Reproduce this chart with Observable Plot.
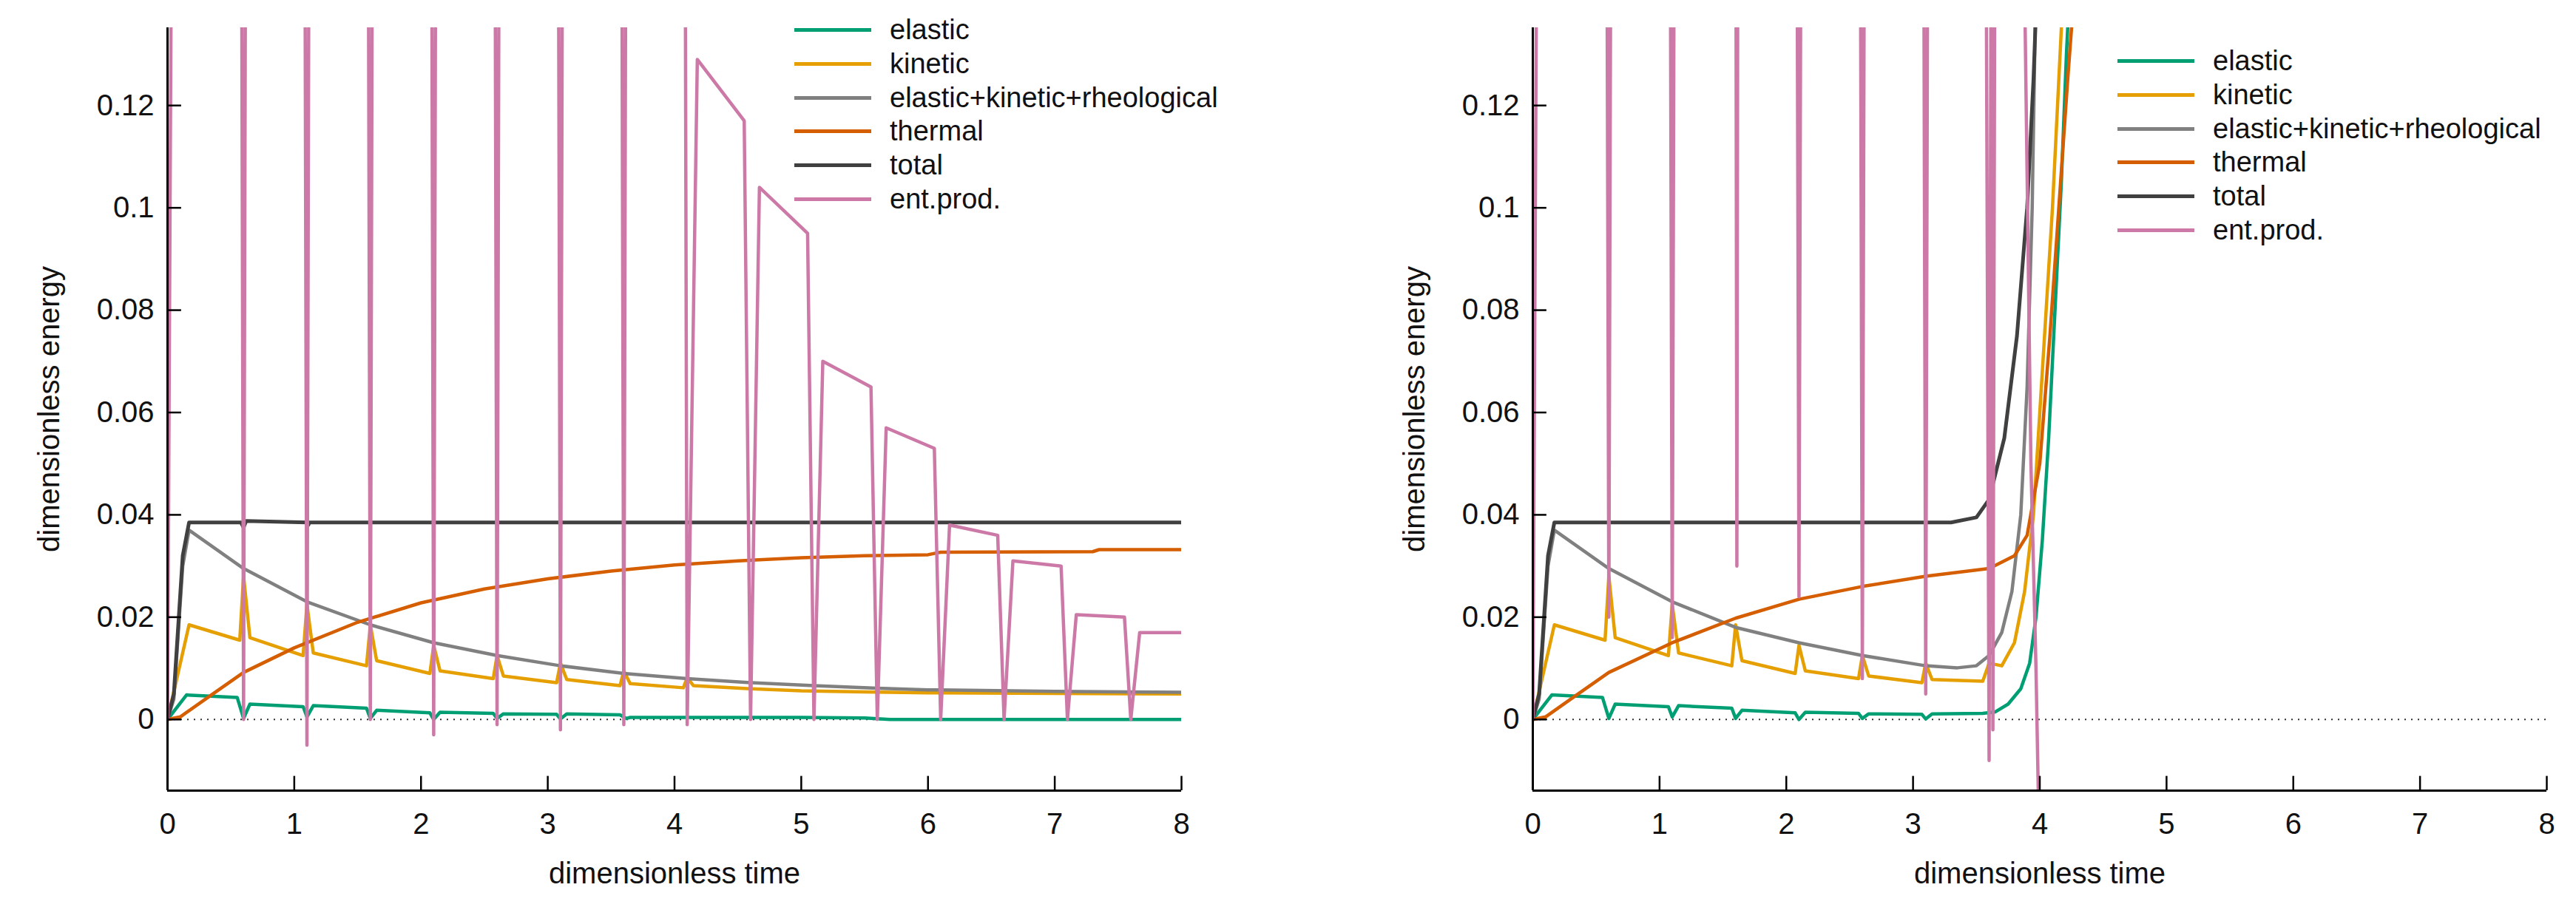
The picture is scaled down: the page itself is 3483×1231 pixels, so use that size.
<!DOCTYPE html>
<html><head><meta charset="utf-8">
<script src="https://cdn.jsdelivr.net/npm/d3@7"></script>
<script src="https://cdn.jsdelivr.net/npm/@observablehq/plot@0.6"></script>
<style>
body{margin:0;background:#fff;font-family:"Liberation Sans",Arial,sans-serif}
#wrap{display:flex;width:3483px;height:1231px}
.panel{position:relative;width:1741px;height:1231px}
.legend{position:absolute;font-size:38px;color:#111}
.legend div{display:flex;align-items:center;height:45.7px}
.legend span.sw{display:inline-block;width:104px;height:5px;margin-right:25px}
</style></head><body><div id="wrap"><div class="panel" id="p1"></div><div class="panel" id="p2"></div></div>
<script>
const seriesNames = ["elastic","kinetic","elastic+kinetic+rheological","thermal","total","ent.prod."];
const seriesColors = ["#009e73","#e69f00","#808080","#d55e00","#404040","#cc79a7"];
const xTicks = [0,1,2,3,4,5,6,7,8];
const yTicks = [0,0.02,0.04,0.06,0.08,0.1,0.12];

// Left panel
const L_elastic = [[0,0],[0.15,0.0048],[0.55,0.0043],[0.6,0.0002],[0.65,0.003],[1.07,0.0025],[1.1,0.0005],[1.15,0.0027],[1.57,0.0022],[1.6,0.0002],[1.65,0.0018],[2.07,0.0013],[2.1,0.0],[2.15,0.0014],[2.57,0.0012],[2.6,0.0002],[2.65,0.0011],[3.07,0.001],[3.1,0.0001],[3.15,0.0011],[3.57,0.0009],[3.62,0.0002],[3.65,0.0004],[5,0.0004],[5.5,0.0003],[5.7,0],[8,0]];
const L_kinetic = [[0,0],[0.17,0.0185],[0.57,0.0155],[0.6,0.028],[0.65,0.016],[1.07,0.0125],[1.1,0.0225],[1.15,0.013],[1.57,0.0105],[1.6,0.0185],[1.65,0.0115],[2.07,0.009],[2.1,0.0145],[2.15,0.0095],[2.57,0.008],[2.6,0.0125],[2.65,0.0085],[3.07,0.0072],[3.1,0.011],[3.15,0.0078],[3.57,0.0066],[3.6,0.0095],[3.65,0.007],[4.07,0.0062],[4.1,0.0082],[4.15,0.0066],[4.6,0.006],[5,0.0056],[5.5,0.0054],[6,0.0052],[7,0.0051],[8,0.005]];
const L_combined = [[0,0],[0.05,0.004],[0.12,0.03],[0.17,0.037],[0.6,0.0295],[1.1,0.023],[1.6,0.0185],[2.1,0.015],[2.6,0.0125],[3.1,0.0105],[3.6,0.009],[4.1,0.008],[4.6,0.0072],[5.1,0.0066],[5.6,0.0061],[6,0.0058],[7,0.0055],[8,0.0053]];
const L_thermal = [[0,0],[0.1,0.0005],[0.3,0.004],[0.6,0.0092],[1,0.014],[1.5,0.019],[2,0.0228],[2.5,0.0255],[3,0.0275],[3.5,0.029],[4,0.0302],[4.5,0.031],[5,0.0316],[5.5,0.032],[6,0.0322],[6.1,0.0327],[7.3,0.0328],[7.35,0.0332],[8,0.0332]];
const L_total = [[0,0],[0.05,0.005],[0.12,0.032],[0.17,0.0385],[0.58,0.0385],[0.6,0.0375],[0.62,0.0388],[1.1,0.0385],[1.11,0.038],[1.12,0.0385],[8,0.0385]];
const L_ent = [[0,0],[0.04,0.2],[0.58,0.2],[0.6,0.0],[0.62,0.2],[1.08,0.2],[1.1,-0.005],[1.12,0.2],[1.58,0.2],[1.6,0.0],[1.62,0.2],[2.08,0.2],[2.1,-0.003],[2.12,0.2],[2.58,0.2],[2.6,-0.001],[2.62,0.2],[3.08,0.2],[3.1,-0.002],[3.12,0.2],[3.58,0.2],[3.6,-0.001],[3.62,0.2],[4.08,0.2],[4.1,-0.001],[4.18,0.129],[4.55,0.117],[4.6,0],[4.67,0.104],[5.05,0.095],[5.1,0],[5.17,0.07],[5.55,0.065],[5.6,0],[5.67,0.057],[6.05,0.053],[6.1,0],[6.17,0.038],[6.55,0.036],[6.6,0],[6.67,0.031],[7.05,0.03],[7.1,0],[7.17,0.0205],[7.55,0.02],[7.6,0],[7.67,0.017],[8,0.017]];

// Right panel
const R_elastic = [[0,0],[0.15,0.0048],[0.55,0.0043],[0.6,0.0002],[0.65,0.003],[1.07,0.0025],[1.1,0.0005],[1.15,0.0027],[1.57,0.0022],[1.6,0.0002],[1.65,0.0018],[2.07,0.0013],[2.1,0.0],[2.15,0.0014],[2.57,0.0012],[2.6,0.0002],[2.65,0.0011],[3.07,0.001],[3.1,0.0001],[3.15,0.0011],[3.55,0.0012],[3.65,0.0015],[3.75,0.003],[3.85,0.006],[3.92,0.011],[3.97,0.02],[4.02,0.035],[4.07,0.055],[4.12,0.08],[4.17,0.105],[4.21,0.13],[4.24,0.145]];
const R_kinetic = [[0,0],[0.17,0.0185],[0.57,0.0155],[0.6,0.028],[0.65,0.016],[1.07,0.0125],[1.1,0.0225],[1.15,0.013],[1.57,0.0105],[1.6,0.0185],[1.65,0.0115],[2.07,0.009],[2.1,0.0145],[2.15,0.0095],[2.57,0.008],[2.6,0.0125],[2.65,0.0085],[3.07,0.0072],[3.1,0.011],[3.15,0.0078],[3.55,0.0075],[3.6,0.011],[3.7,0.0105],[3.8,0.015],[3.88,0.025],[3.95,0.04],[4.0,0.06],[4.05,0.08],[4.1,0.1],[4.15,0.125],[4.19,0.145]];
const R_combined = [[0,0],[0.05,0.004],[0.12,0.03],[0.17,0.037],[0.6,0.0295],[1.1,0.023],[1.6,0.018],[2.1,0.015],[2.6,0.0125],[3.1,0.0105],[3.35,0.0101],[3.5,0.0105],[3.6,0.0125],[3.7,0.017],[3.78,0.025],[3.85,0.04],[3.9,0.065],[3.94,0.1],[3.97,0.145]];
const R_thermal = [[0,0],[0.1,0.0005],[0.3,0.004],[0.6,0.0092],[1.1,0.015],[1.6,0.0198],[2.1,0.0235],[2.6,0.026],[3.1,0.028],[3.6,0.0295],[3.8,0.032],[3.9,0.036],[4.0,0.05],[4.08,0.075],[4.15,0.1],[4.22,0.125],[4.28,0.145]];
const R_total = [[0,0],[0.05,0.005],[0.12,0.032],[0.17,0.0385],[3.3,0.0385],[3.5,0.0395],[3.6,0.043],[3.72,0.055],[3.82,0.075],[3.9,0.1],[3.95,0.125],[3.98,0.145]];
const R_ent = [[0,0],[0.04,0.2],[0.58,0.2],[0.6,0.02],[0.62,0.2],[1.08,0.2],[1.1,0.016],[1.12,0.2],[1.6,0.2],[1.61,0.03],[1.62,0.2],[2.08,0.2],[2.1,0.024],[2.12,0.2],[2.58,0.2],[2.6,0.008],[2.62,0.2],[3.08,0.2],[3.1,0.005],[3.12,0.2],[3.57,0.2],[3.6,-0.008],[3.62,0.2],[3.63,-0.002],[3.65,0.2],[3.85,0.2],[3.93,0.05],[3.97,0.01],[4.0,-0.03]];

const yDomain = [-0.0139, 0.1352];
const fmtY = d => d === 0 ? "0" : String(+d.toFixed(2));
const fmtX = d => String(d);

function panel(el, data, ml, mr, legendPos) {
  const marks = [
    Plot.ruleY([0], {stroke: "#333", strokeWidth: 2, strokeDasharray: "2,7"}),
    ...data.map((s, i) => Plot.line(s, {x: d => d[0], y: d => d[1], stroke: seriesColors[i], strokeWidth: i===4?5:4.5, clip: true})),
    Plot.ruleX([0], {stroke: "#000", strokeWidth: 3}),
    Plot.ruleY([yDomain[0]], {stroke: "#000", strokeWidth: 3}),
    Plot.ruleX(xTicks, {y1: yDomain[0], y2: yDomain[0] + 0.0028, stroke: "#000", strokeWidth: 2.5}),
    Plot.ruleY(yTicks, {x1: 0, x2: 0.11, stroke: "#000", strokeWidth: 2.5}),
    Plot.axisX(xTicks, {tickSize: 0, tickPadding: 30, fontSize: 40, tickFormat: fmtX, label: "dimensionless time", labelAnchor: "center", labelArrow: "none", labelOffset: 125}),
    Plot.axisY(yTicks, {tickSize: 0, tickPadding: 18, fontSize: 40, tickFormat: fmtY, label: "dimensionless energy", labelAnchor: "center", labelArrow: "none", labelOffset: 175})
  ];
  const p = Plot.plot({
    width: 1741, height: 1231, marginLeft: ml, marginRight: mr, marginTop: 37, marginBottom: 162,
    style: {fontFamily: "Liberation Sans, Arial, sans-serif", fontSize: "38px", color: "#111", background: "#fff"},
    x: {domain: [0, 8]}, y: {domain: yDomain},
    marks
  });
  el.appendChild(p);
  const lg = document.createElement("div");
  lg.className = "legend";
  lg.style.left = legendPos[0] + "px"; lg.style.top = legendPos[1] + "px";
  seriesNames.forEach((n, i) => {
    const r = document.createElement("div");
    r.innerHTML = `<span class="sw" style="background:${seriesColors[i]}"></span><span>${n}</span>`;
    lg.appendChild(r);
  });
  el.appendChild(lg);
}
panel(document.getElementById("p1"), [L_elastic, L_kinetic, L_combined, L_thermal, L_total, L_ent], 226, 144, [1074, 18]);
panel(document.getElementById("p2"), [R_elastic, R_kinetic, R_combined, R_thermal, R_total, R_ent], 331, 39, [1122, 60]);
</script></body></html>
